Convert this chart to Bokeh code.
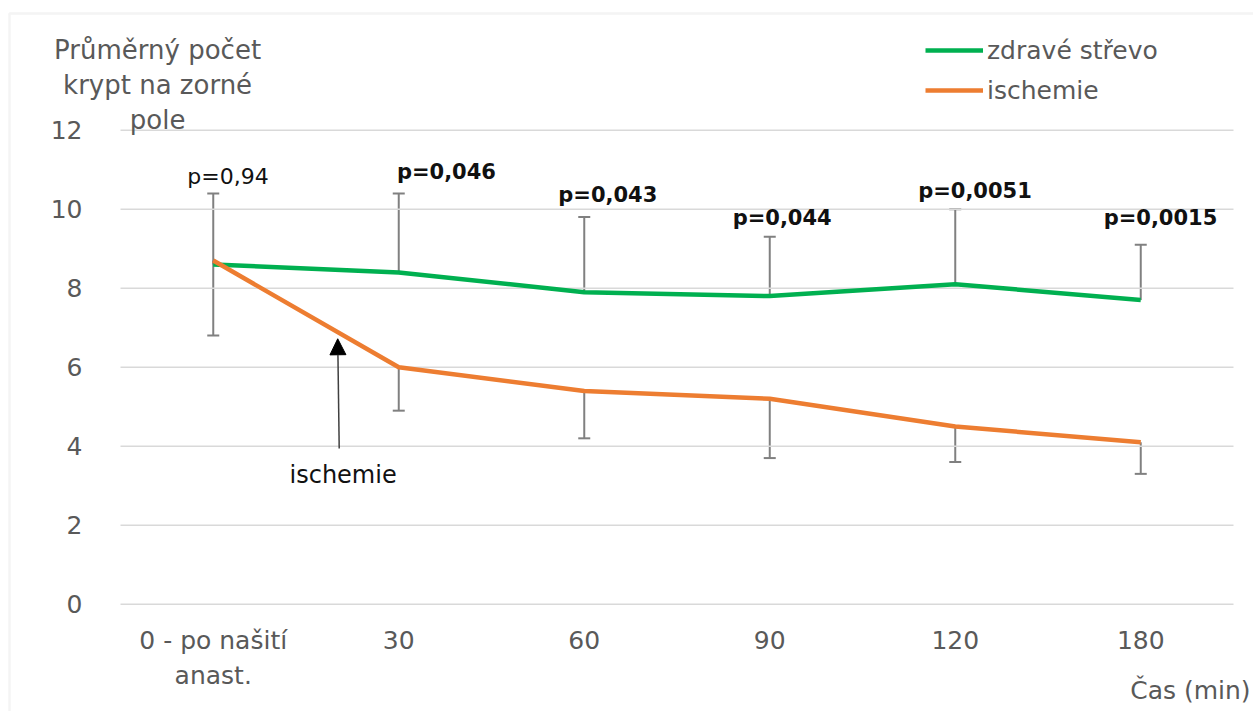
from bokeh.plotting import figure
from bokeh.models import (Range1d, FixedTicker, Whisker, TeeHead, ColumnDataSource, Label,
                          Arrow, NormalHead, Legend, LegendItem, BoxAnnotation)
from bokeh.embed import file_html
from bokeh.resources import INLINE

# ---- data ----
categories = ["0 - po našití\nanast.", "30", "60", "90", "120", "180"]
healthy = [8.6, 8.4, 7.9, 7.8, 8.1, 7.7]
healthy_sd = [1.8, 2.0, 1.9, 1.5, 1.9, 1.4]
ischemia = [8.7, 6.0, 5.4, 5.2, 4.5, 4.1]
ischemia_sd = [1.9, 1.1, 1.2, 1.5, 0.9, 0.8]
p_values = ["p=0,94", "p=0,046", "p=0,043", "p=0,044", "p=0,0051", "p=0,0015"]
y_ticks = [0, 2, 4, 6, 8, 10, 12]
series_names = ["zdravé střevo", "ischemie"]
y_title = "Průměrný počet\nkrypt na zorné\npole"
x_title = "Čas (min)"
arrow_text = "ischemie"

# annotation anchors (label placement, data coords)
p_label_x = [-0.14, -0.01, -0.14, -0.20, -0.20, -0.20]
p_label_y = [10.83, 10.93, 10.35, 9.79, 10.47, 9.79]

GREEN = "#00B050"
ORANGE = "#ED7D31"
GRAY_TXT = "#595959"
ERR = "#808080"
FONT = "DejaVu Sans"

W, H = 1253, 711
# frame = whole canvas; plot area spans x in [-0.5, 5.5], y in [0, 12]
X0, X1 = -1.1469, 5.6078
Y0, Y1 = -2.716, 15.284

xs = list(range(len(categories)))
src = ColumnDataSource(dict(
    x=xs,
    hm=healthy,
    hu=[m + s for m, s in zip(healthy, healthy_sd)],
    im=ischemia,
    il=[m - s for m, s in zip(ischemia, ischemia_sd)],
))

p = figure(width=W, height=H, x_range=Range1d(X0, X1), y_range=Range1d(Y0, Y1),
           output_backend="svg", toolbar_location=None, min_border=0)
p.outline_line_color = None
p.background_fill_color = "white"
p.border_fill_color = "white"
p.xgrid.visible = False
p.ygrid.visible = False

# horizontal gridlines limited to the plot area
p.segment(x0=-0.5, x1=5.5, y0=y_ticks, y1=y_ticks, line_color="#d9d9d9", line_width=1.5)

p.yaxis.ticker = FixedTicker(ticks=y_ticks)
p.yaxis.fixed_location = -0.5
p.xaxis.ticker = FixedTicker(ticks=xs)
p.xaxis.fixed_location = 0
p.xaxis.major_label_overrides = {i: c for i, c in zip(xs, categories)}
for ax in (p.xaxis, p.yaxis):
    ax.axis_line_color = None
    ax.major_tick_line_color = None
    ax.minor_tick_line_color = None
    ax.major_label_text_font = FONT
    ax.major_label_text_font_size = "25px"
    ax.major_label_text_color = GRAY_TXT
p.yaxis.major_label_standoff = 32
p.xaxis.major_label_standoff = 16
p.xaxis.major_label_text_line_height = 1.2

# error bars
w1 = Whisker(source=src, base="x", lower="hm", upper="hu", line_color=ERR, line_width=2,
             upper_head=TeeHead(size=12, line_color=ERR, line_width=2), lower_head=None, level="underlay")
w2 = Whisker(source=src, base="x", lower="il", upper="im", line_color=ERR, line_width=2,
             lower_head=TeeHead(size=12, line_color=ERR, line_width=2), upper_head=None, level="underlay")
p.add_layout(w1)
p.add_layout(w2)

r1 = p.line(x="x", y="hm", source=src, line_color=GREEN, line_width=4.5)
r2 = p.line(x="x", y="im", source=src, line_color=ORANGE, line_width=4.5)

# p-value labels
for i, (t, lx, ly) in enumerate(zip(p_values, p_label_x, p_label_y)):
    p.add_layout(Label(x=xs[i] + lx, y=ly, text=t, text_align="left", text_baseline="middle",
                       text_font=FONT, text_font_size="22px" if i == 0 else "21px",
                       text_font_style="normal" if i == 0 else "bold", text_color="#111111"))

# arrow annotation
p.add_layout(Arrow(end=NormalHead(size=16, fill_color="black", line_color="black"),
                   x_start=0.679, y_start=3.94, x_end=0.671, y_end=6.72,
                   line_color="#404040", line_width=1.5))
p.add_layout(Label(x=0.70, y=3.28, text=arrow_text, text_align="center", text_baseline="middle",
                   text_font=FONT, text_font_size="24px", text_color="#111111"))

# axis titles
p.add_layout(Label(x=-0.30, y=14.42, text=y_title, text_align="center", text_baseline="top",
                   text_font=FONT, text_font_size="26px", text_color=GRAY_TXT, text_line_height=1.18))
p.add_layout(Label(x=5.592, y=-2.18, text=x_title, text_align="right", text_baseline="middle",
                   text_font=FONT, text_font_size="25px", text_color=GRAY_TXT))

# legend
legend = Legend(items=[LegendItem(label=series_names[0], renderers=[r1]),
                       LegendItem(label=series_names[1], renderers=[r2])],
                location=(925, 606), orientation="vertical",
                border_line_color=None, background_fill_alpha=0,
                label_text_font=FONT, label_text_font_size="25px", label_text_color=GRAY_TXT,
                glyph_width=58, glyph_height=30, label_height=30, spacing=10,
                padding=0, margin=0, label_standoff=4)
p.add_layout(legend)

# outer chart border
p.add_layout(BoxAnnotation(left=9, right=1400, top=698, bottom=-100,
                           left_units="screen", right_units="screen",
                           top_units="screen", bottom_units="screen",
                           fill_alpha=0, line_color="#d9d9d9", line_width=2.5))

open("out.html", "w").write(file_html(p, INLINE))
